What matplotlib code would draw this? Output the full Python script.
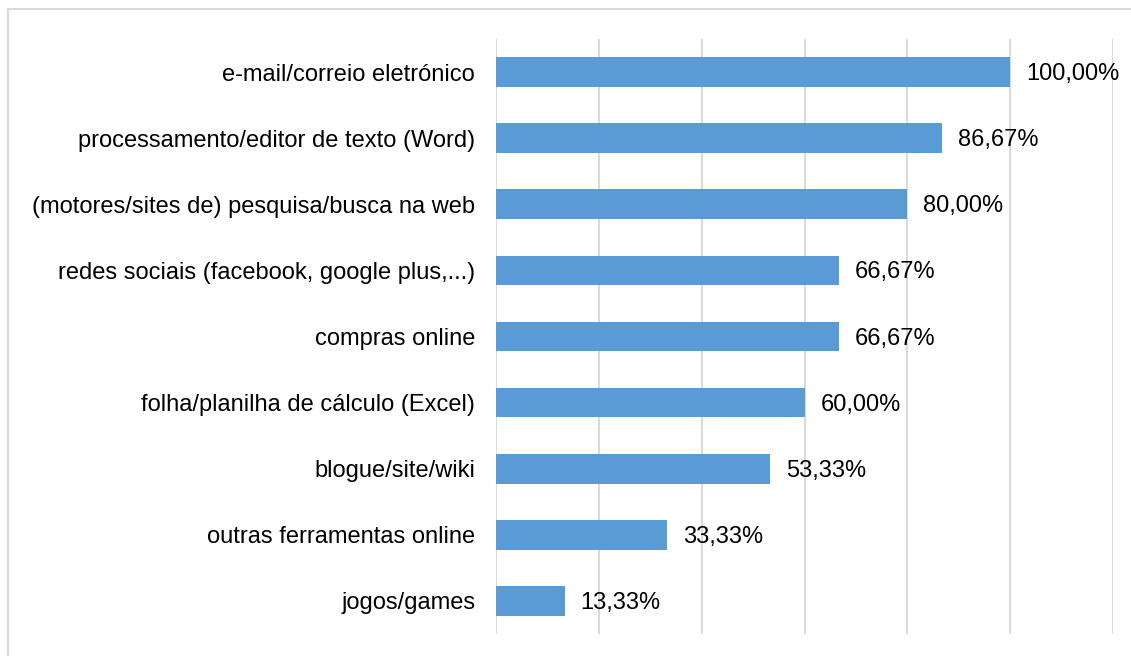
import matplotlib
matplotlib.use("Agg")
import matplotlib.pyplot as plt
from matplotlib.patches import Rectangle

categories = [
    "e-mail/correio eletrónico",
    "processamento/editor de texto (Word)",
    "(motores/sites de) pesquisa/busca na web",
    "redes sociais (facebook, google plus,...)",
    "compras online",
    "folha/planilha de cálculo (Excel)",
    "blogue/site/wiki",
    "outras ferramentas online",
    "jogos/games",
]
values = [100.00, 86.67, 80.00, 66.67, 66.67, 60.00, 53.33, 33.33, 13.33]
value_labels = ["100,00%", "86,67%", "80,00%", "66,67%", "66,67%",
                "60,00%", "53,33%", "33,33%", "13,33%"]

plt.rcParams['font.family'] = ['Liberation Sans', 'DejaVu Sans']

W, H = 1131, 656
fig = plt.figure(figsize=(W / 100, H / 100), dpi=100)

# outer chart border
fig.patches.append(Rectangle((8 / W, -0.05), 1.1, 1 - 9 / H + 0.05,
                             transform=fig.transFigure, fill=False,
                             edgecolor="#d9d9d9", linewidth=1.5))

ax = fig.add_axes([496 / W, 1 - 634 / H, (1113 - 496) / W, (634 - 39) / H])

y = list(range(len(categories)))
ax.barh(y, values, height=0.45, color="#5B9BD5", zorder=3)
ax.set_xlim(0, 120)
ax.set_ylim(len(categories) - 0.5, -0.5)
ax.set_xticks([0, 20, 40, 60, 80, 100, 120])
ax.xaxis.grid(True, color="#d9d9d9", linewidth=1.4, zorder=0)
ax.tick_params(axis="x", length=0, labelbottom=False)
ax.tick_params(axis="y", length=0, pad=15)
ax.set_yticks(y)
ax.set_yticklabels(categories, fontsize=17, color="#000000")
for s in ax.spines.values():
    s.set_visible(False)

for yi, v, lab in zip(y, values, value_labels):
    ax.annotate(lab, (v, yi), xytext=(16, -2), textcoords="offset pixels",
                va="center", ha="left", fontsize=17, color="#000000")

fig.savefig("out.png", dpi=100, facecolor="white")
